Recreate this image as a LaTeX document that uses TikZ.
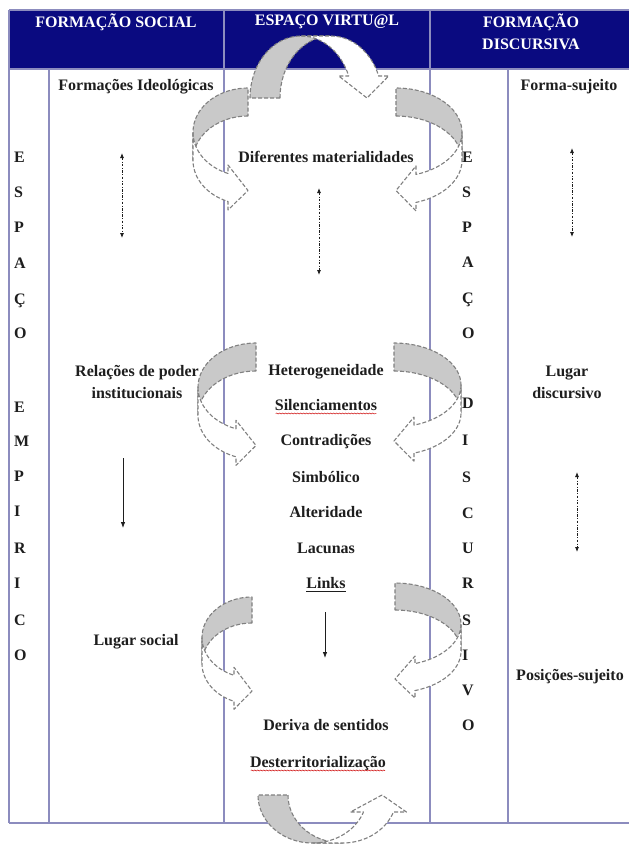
\documentclass[tikz,border=0pt]{standalone}
\usepackage{fontspec}
\setmainfont{Liberation Serif}
\usetikzlibrary{arrows.meta,calc,decorations.pathmorphing}
\definecolor{navy}{HTML}{0A0A80}
\definecolor{gridc}{HTML}{8C8CBE}
\definecolor{shadec}{HTML}{C9C9C9}
\definecolor{dashc}{HTML}{808080}
\definecolor{ink}{HTML}{1E1E1E}

% canonical PowerPoint-like "curved right arrow": width, height, band thickness, head width, head length
\newcommand\ppcarrow[5]{%
  \pgfmathsetmacro\cW{#1}%
  \pgfmathsetmacro\cH{#2}%
  \pgfmathsetmacro\cT{#3}%
  \pgfmathsetmacro\cA{#4}%
  \pgfmathsetmacro\cK{#5}%
  \pgfmathsetmacro\cR{\cH/2-(\cT+\cA)/4}%
  \pgfmathsetmacro\cD{sqrt(\cW*\cW-\cK*\cK)*\cR/\cW}%
  \pgfmathsetmacro\cX{\cW-\cK}%
  \pgfmathsetmacro\cYf{\cR+\cD}%
  \pgfmathsetmacro\cYs{\cR+\cT+\cD}%
  \pgfmathsetmacro\cYq{\cYf-(\cA-\cT)/2}%
  \pgfmathsetmacro\cYe{\cYs+(\cA-\cT)/2}%
  \pgfmathsetmacro\cYt{\cH-\cA/2}%
  \pgfmathsetmacro\cE{acos(-\cK/\cW)}%
  \filldraw[backband] plot[variable=\t,domain=270:180,samples=28] ({\cW+\cW*cos(\t)},{\cR+\cT+\cR*sin(\t)})
     -- plot[variable=\t,domain=180:270,samples=28] ({\cW+\cW*cos(\t)},{\cR+\cR*sin(\t)}) -- cycle;
  \filldraw[frontband] plot[variable=\t,domain=180:\cE,samples=28] ({\cW+\cW*cos(\t)},{\cR+\cR*sin(\t)})
     -- (\cX,\cYq) -- (\cW,\cYt) -- (\cX,\cYe) -- (\cX,\cYs)
     -- plot[variable=\t,domain=\cE:180,samples=28] ({\cW+\cW*cos(\t)},{\cR+\cT+\cR*sin(\t)}) -- cycle;
}

\begin{document}
\begin{tikzpicture}[x=1pt,y=-1pt,
  gridline/.style={draw=gridc, line width=1.8pt},
  backband/.style={fill=shadec, draw=dashc, line width=1.1pt, dash pattern=on 4pt off 2pt, line join=round},
  frontband/.style={fill=white, draw=dashc, line width=1.1pt, dash pattern=on 4pt off 2pt, line join=round},
  head/.style={font=\fontsize{16}{22}\selectfont\bfseries, text=white, align=center, inner sep=0pt},
  txt/.style={font=\fontsize{16}{22}\selectfont\bfseries, text=ink, align=center, inner sep=1pt},
  vletter/.style={font=\fontsize{16}{19}\selectfont\bfseries, text=ink, anchor=base west, inner sep=0pt},
  dotarrow/.style={draw=ink, line width=0.8pt, dash pattern=on 2.5pt off 1.5pt on 0.8pt off 1.5pt, {Latex[length=5pt,width=4pt]}-{Latex[length=5pt,width=4pt]}},
  solidarrow/.style={draw=ink, line width=0.8pt, -{Latex[length=6pt,width=4.5pt]}},
  wavy/.style={draw=red!80!black, line width=0.5pt, decorate, decoration={snake, amplitude=0.5pt, segment length=3pt}},
]
\useasboundingbox (0,0) rectangle (629,844);
\fill[white] (0,0) rectangle (629,844);

% header band
\fill[navy] (9,10) rectangle (629,69);
% table lines
\draw[gridline] (9,10) -- (629,10);
\draw[gridline] (9,69) -- (629,69);
\draw[gridline] (9,823) -- (629,823);
\draw[gridline] (9,10) -- (9,823);
\draw[gridline] (224,10) -- (224,823);
\draw[gridline] (430,10) -- (430,823);
\draw[gridline] (49,69) -- (49,823);
\draw[gridline] (508,69) -- (508,823);

% curved arrows
\begin{scope}[shift={(250,36)}, cm={0,-1,-1,0,(0,0)}]\ppcarrow{62}{142}{30}{50}{22}\end{scope}
\begin{scope}[shift={(193,88)}]\ppcarrow{55}{125}{28}{45}{20}\end{scope}
\begin{scope}[shift={(462,88)}, xscale=-1]\ppcarrow{66}{125}{28}{45}{20}\end{scope}
\begin{scope}[shift={(198,343)}]\ppcarrow{58}{125}{28}{45}{20}\end{scope}
\begin{scope}[shift={(461,343)}, xscale=-1]\ppcarrow{67}{120}{28}{44}{20}\end{scope}
\begin{scope}[shift={(202,597)}]\ppcarrow{50}{115}{26}{42}{18}\end{scope}
\begin{scope}[shift={(461,583)}, xscale=-1]\ppcarrow{66}{117}{27}{42}{20}\end{scope}
\begin{scope}[shift={(258,843)}, rotate=90]\ppcarrow{48}{152}{30}{56}{17}\end{scope}

% header texts
\node[head] (hfs) at (116,22) {FORMAÇÃO SOCIAL};
\node[head] (hev) at (327,22) {ESPAÇO VIRTU@L};
\node[head] (hfd) at (531,32) {FORMAÇÃO\\DISCURSIVA};

% left column
\node[txt, anchor=base] (fi) at (136,90.5) {Formações Ideológicas};
\node[txt] (rp) at (137,382) {Relações de poder\\institucionais};
\node[txt, anchor=base] (ls) at (136,645.5) {Lugar social};

% center column
\node[txt, anchor=base] (dm) at (326,162.5) {Diferentes materialidades};
\node[txt, anchor=base] (het) at (326,375.5) {Heterogeneidade};
\node[txt, anchor=base] (sil) at (326,410.5) {Silenciamentos};
\node[txt, anchor=base] (con) at (326,445.5) {Contradições};
\node[txt, anchor=base] (sim) at (326,482.5) {Simbólico};
\node[txt, anchor=base] (alt) at (326,517.5) {Alteridade};
\node[txt, anchor=base] (lac) at (326,553.5) {Lacunas};
\node[txt, anchor=base] (lnk) at (326,588.5) {Links};
\node[txt, anchor=base] (der) at (326,730.5) {Deriva de sentidos};
\node[txt, anchor=base] (des) at (318,767.5) {Desterritorialização};

% right column
\node[txt, anchor=base] (fs) at (569,90.5) {Forma-sujeito};
\node[txt] (ld) at (567,382) {Lugar\\discursivo};
\node[txt, anchor=base] (ps) at (570,680.5) {Posições-sujeito};

% underlines
\draw[wavy] ($(sil.base west)+(2,3)$) -- ($(sil.base east)+(-2,3)$);
\draw[wavy] ($(des.base west)+(2,3)$) -- ($(des.base east)+(-2,3)$);
\draw[draw=ink, line width=0.6pt] ($(lnk.base west)+(1,2.5)$) -- ($(lnk.base east)+(-1,2.5)$);

% vertical words
\foreach \ch/\yy [count=\i] in {E/157,S/192,P/227,A/263,Ç/299,O/333,E/407,M/441,P/476,I/511,R/548,I/583,C/620,O/655}
  \node[vletter] (le\i) at (14,\yy+5.5) {\ch};
\foreach \ch/\yy [count=\i] in {E/157,S/192,P/227,A/262,Ç/298,O/333,D/403,I/440,S/477,C/513,U/548,R/583,S/620,I/655,V/690,O/725}
  \node[vletter] (re\i) at (462,\yy+5.5) {\ch};

% arrows
\coordinate (la1) at (122,153); \coordinate (la2) at (122,238);
\coordinate (ca1) at (319,188); \coordinate (ca2) at (319,275);
\coordinate (ra1) at (572,148); \coordinate (ra2) at (572,237);
\coordinate (rb1) at (577,472); \coordinate (rb2) at (577,552);
\draw[dotarrow] (la1) -- (la2);
\draw[dotarrow] (ca1) -- (ca2);
\draw[dotarrow] (ra1) -- (ra2);
\draw[dotarrow] (rb1) -- (rb2);
\coordinate (lb1) at (123,458); \coordinate (lb2) at (123,528);
\coordinate (cb1) at (325,612); \coordinate (cb2) at (325,658);
\draw[solidarrow] (lb1) -- (lb2);
\draw[solidarrow] (cb1) -- (cb2);
\end{tikzpicture}
\end{document}
